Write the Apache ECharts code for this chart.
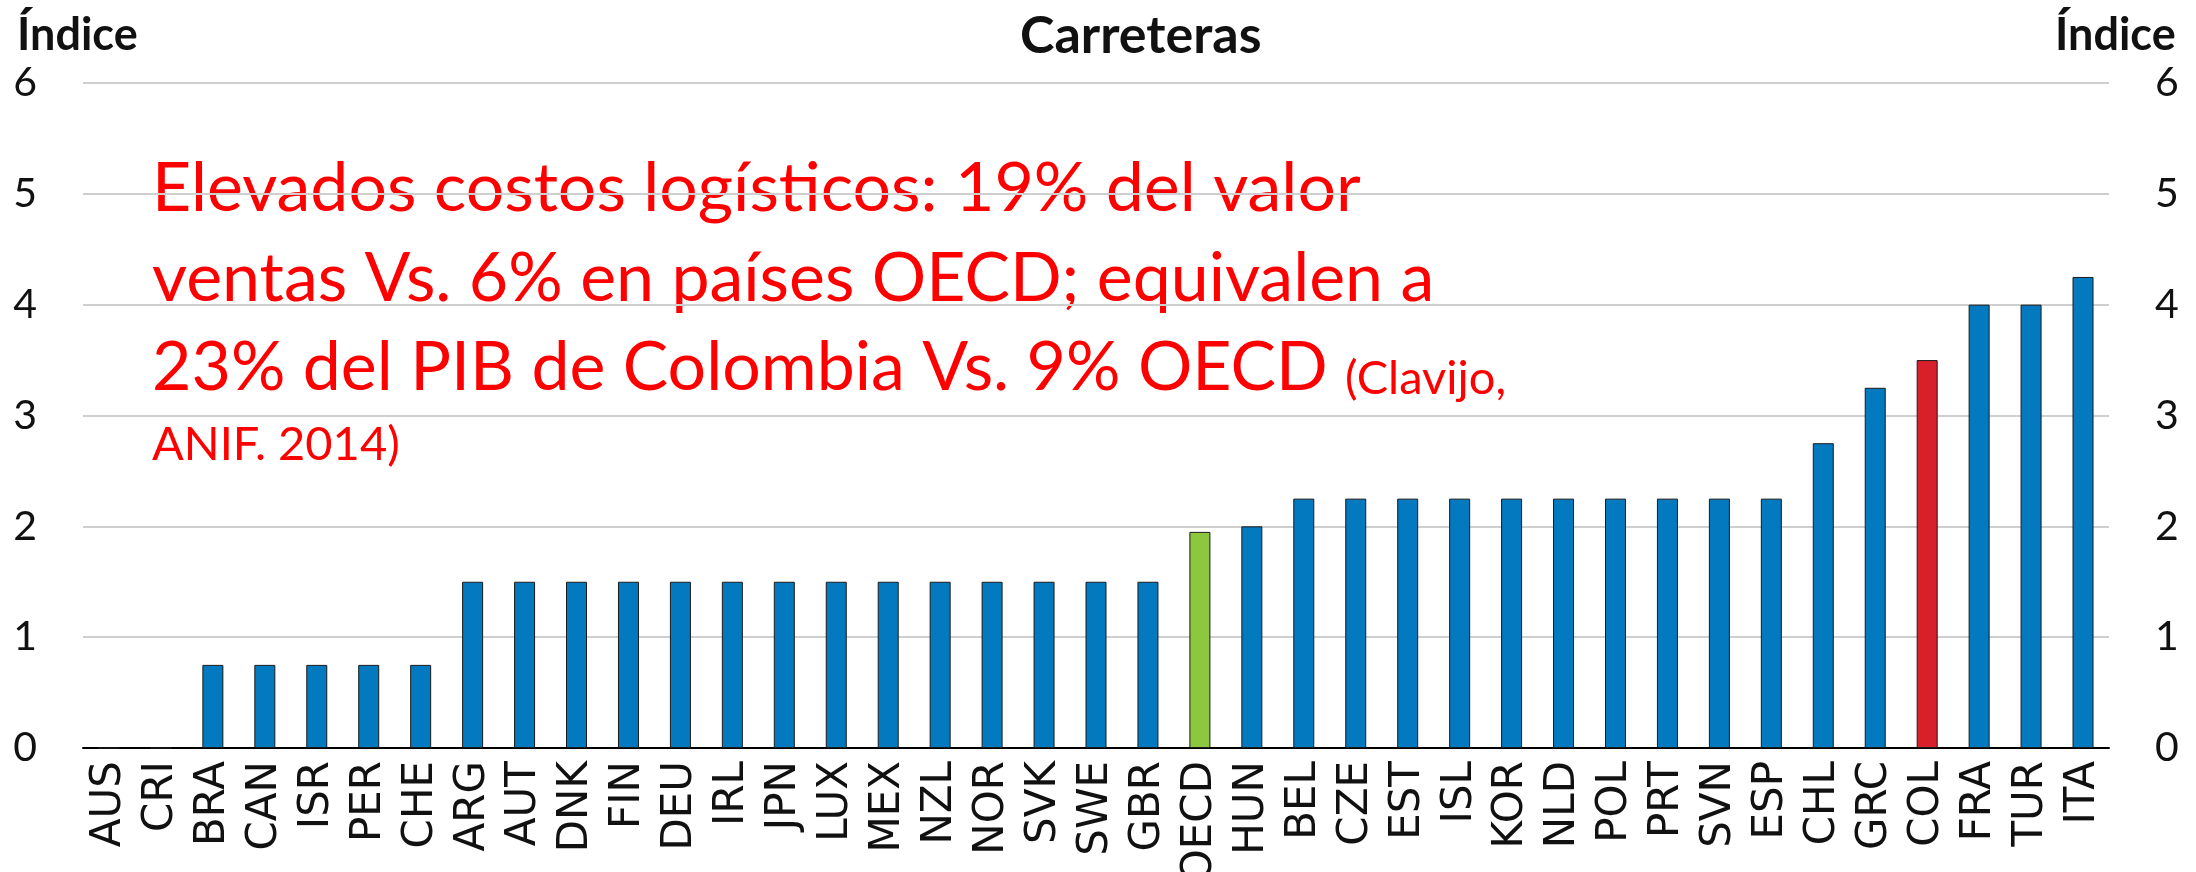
<!DOCTYPE html>
<html>
<head>
<meta charset="utf-8">
<script src="https://cdn.jsdelivr.net/npm/echarts@6/dist/echarts.min.js"></script>
<style>
  html, body { margin: 0; padding: 0; background: #fff; }
  #chart { width: 2196px; height: 872px; }
</style>
</head>
<body>
<div id="chart"></div>
<script>
// countries, sorted as in the source figure
var countries = ["AUS", "CRI", "BRA", "CAN", "ISR", "PER", "CHE", "ARG", "AUT", "DNK",
    "FIN", "DEU", "IRL", "JPN", "LUX", "MEX", "NZL", "NOR", "SVK", "SWE",
    "GBR", "OECD", "HUN", "BEL", "CZE", "EST", "ISL", "KOR", "NLD", "POL",
    "PRT", "SVN", "ESP", "CHL", "GRC", "COL", "FRA", "TUR", "ITA"];
// index values (0-6)
var indice = [0, 0, 0.75, 0.75, 0.75, 0.75, 0.75, 1.5, 1.5, 1.5,
    1.5, 1.5, 1.5, 1.5, 1.5, 1.5, 1.5, 1.5, 1.5, 1.5,
    1.5, 1.95, 2, 2.25, 2.25, 2.25, 2.25, 2.25, 2.25, 2.25,
    2.25, 2.25, 2.25, 2.75, 3.25, 3.5, 4, 4, 4.25];
var yTicks = [0, 1, 2, 3, 4, 5, 6];
var highlight = { "OECD": "#8DC63F", "COL": "#D7202A" };

var blue = "#0379BF";
var red = "#FF0000";
var textLines = [
    "Elevados costos logísticos: 19% del valor",
    "ventas Vs. 6% en países OECD; equivalen a",
    "23% del PIB de Colombia Vs. 9% OECD ",
    "(Clavijo,",
    "ANIF. 2014)"
];

var chart = echarts.init(document.getElementById('chart'));

// bars, one colour per country (blue unless highlighted)
var barData = countries.map((c, i) => ({
    value: indice[i],
    itemStyle: { color: highlight[c] || blue }
}));

var bigFont = '68px Lato';
var smallFont = '47px Lato';

var option = {
    animation: false,
    // labels may run off the bottom edge, as in the source (OECD is clipped)
    grid: { left: 83, right: 87, top: 83, bottom: 124, outerBoundsMode: 'none', containLabel: false },
    xAxis: {
        type: 'category',
        data: countries,
        axisLine: { lineStyle: { color: '#000', width: 2 } },
        axisTick: { inside: true, length: 15, lineStyle: { color: '#000', width: 2 } },
        axisLabel: {
            rotate: 90, margin: 13, color: '#111',
            fontFamily: 'DejaVu Sans', fontSize: 42, interval: 0
        }
    },
    yAxis: [
        {
            type: 'value', min: 0, max: 6, interval: 1,
            axisLine: { show: false }, axisTick: { show: false },
            splitLine: { lineStyle: { color: '#cfcfcf', width: 2 } },
            axisLabel: {
                margin: 46, color: '#111', fontFamily: 'Lato', fontSize: 41,
                formatter: (v) => yTicks.includes(v) ? String(v) : ''
            }
        },
        {
            type: 'value', min: 0, max: 6, interval: 1,
            axisLine: { show: false }, axisTick: { show: false },
            splitLine: { show: false },
            axisLabel: {
                margin: 46, color: '#111', fontFamily: 'Lato', fontSize: 41,
                formatter: (v) => yTicks.includes(v) ? String(v) : ''
            }
        }
    ],
    series: [{
        type: 'bar',
        data: barData,
        barWidth: 21,
        itemStyle: { borderColor: '#1a1a1a', borderWidth: 1 }
    }],
    graphic: [
        { type: 'text', left: 17, top: 13,
          style: { text: 'Índice', font: 'bold 45px Lato', fill: '#111' } },
        { type: 'text', left: 2055, top: 13,
          style: { text: 'Índice', font: 'bold 45px Lato', fill: '#111' } },
        { type: 'text', left: 1020, top: 10,
          style: { text: 'Carreteras', font: 'bold 52px Lato', fill: '#111' } },
        { type: 'text', left: 152, top: 155,
          style: { text: textLines[0], font: bigFont, fill: red } },
        { type: 'text', left: 152, top: 245,
          style: { text: textLines[1], font: bigFont, fill: red } },
        { type: 'text', left: 152, top: 334,
          style: {
              text: '{big|' + textLines[2] + '}{small|' + textLines[3] + '}',
              rich: {
                  big: { font: bigFont, fill: red, verticalAlign: 'bottom' },
                  small: { font: smallFont, fill: red, verticalAlign: 'bottom' }
              }
          } },
        { type: 'text', left: 152, top: 421,
          style: { text: textLines[4], font: smallFont, fill: red } }
    ]
};

chart.setOption(option);
</script>
</body>
</html>
